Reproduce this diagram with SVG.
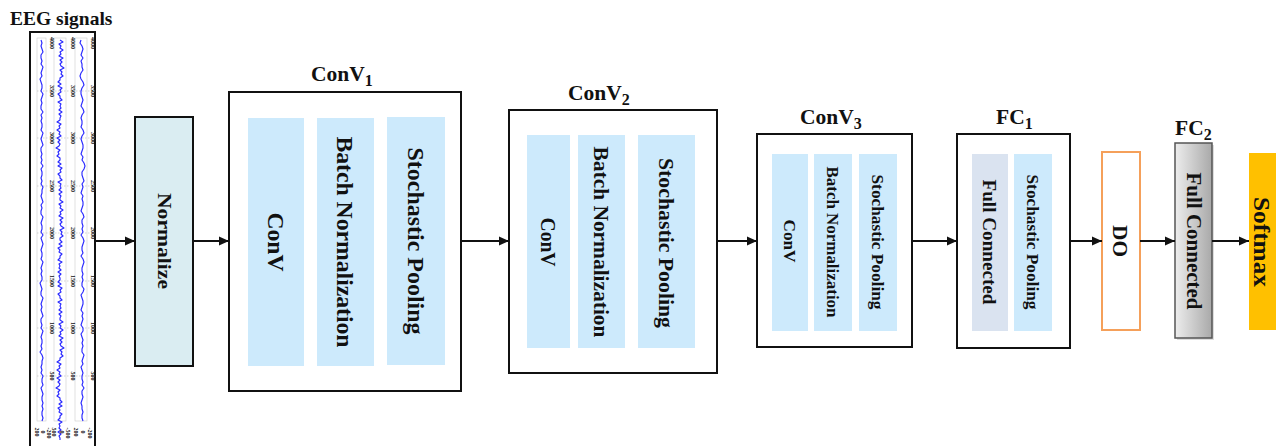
<svg xmlns="http://www.w3.org/2000/svg" width="1276" height="446" viewBox="0 0 1276 446">
<style>
text{font-family:"Liberation Serif","Times New Roman",serif;font-weight:bold;fill:#111}
.box{fill:#fff;stroke:#111;stroke-width:2}
.bar{fill:#cdeafc}
.lbl{text-anchor:middle}
.ttl{font-size:21.5px}
.sub{font-size:16px}
.conn line{stroke:#111;stroke-width:2}
.tick{font-family:"Liberation Serif",serif;font-weight:normal;font-size:6px;fill:#8a8a8a;text-anchor:middle}
.sig{fill:none;stroke:#2a2aff;stroke-width:1.15;stroke-linejoin:round}
.grid{stroke:#bbb;stroke-width:0.6;stroke-dasharray:1.5 1.5}
.pl{fill:#fff;stroke:#ccc;stroke-width:0.6}
</style>
<defs>
<marker id="ah" viewBox="0 0 10 10" refX="10" refY="5" markerWidth="10" markerHeight="10" markerUnits="userSpaceOnUse" orient="auto">
<path d="M0,0.5 L10,5 L0,9.5 Z" fill="#111"/>
</marker>
<linearGradient id="gray" x1="0" y1="0" x2="1" y2="0">
<stop offset="0" stop-color="#ededed"/>
<stop offset="1" stop-color="#a9a9a9"/>
</linearGradient>
</defs>

<g id="eeg">
<text x="10" y="25" style="font-size:19.5px">EEG signals</text>
<rect x="30" y="32" width="65" height="420" fill="#fff" stroke="#111" stroke-width="2"/>
<rect class="pl" x="37" y="38" width="9" height="383"/>
<rect class="pl" x="54" y="38" width="12" height="383"/>
<rect class="pl" x="75" y="38" width="12" height="383"/>
<g class="grid">
<line x1="37" y1="91" x2="95" y2="91"/><line x1="37" y1="138" x2="95" y2="138"/><line x1="37" y1="186" x2="95" y2="186"/><line x1="37" y1="233" x2="95" y2="233"/><line x1="37" y1="281" x2="95" y2="281"/><line x1="37" y1="328" x2="95" y2="328"/><line x1="37" y1="376" x2="95" y2="376"/>
</g>
<path class="sig" d="M41,40 l1,3 -1,3 1,3 1,3 -2,3 0,3 1,3 -1,3 2,3 -1,3 -1,3 1,3 -2,3 1,3 1,3 0,3 -1,3 2,3 -1,3 -1,3 1,3 -1,3 0,3 2,3 -2,3 1,3 -1,3 1,3 0,3 -1,3 2,3 -1,3 -1,3 1,3 1,3 -2,3 0,3 1,3 -1,3 1,3 -1,3 2,3 -2,3 1,3 0,3 -1,3 1,3 -1,3 2,3 -1,3 0,3 -1,3 1,3 1,3 -2,3 1,3 -1,3 0,3 2,3 -1,3 -1,3 1,3 0,3 -1,3 2,3 -2,3 1,3 1,3 -1,3 -1,3 1,3 0,3 -1,3 2,3 -1,3 -1,3 1,3 -1,3 1,3 0,3 -2,3 1,3 1,3 -1,3 0,3 2,3 -1,3 -1,3 1,3 -1,3 1,3 1,3 -2,3 0,3 1,3 -1,3 2,3 -1,3 -1,3 1,3 0,3 -1,3 1,3 -2,3 2,3 1,3 -1,3 0,3 -1,3 1,3 -1,3 2,3 -1,3 0,3 1,3 -2,3 1,3 1,3 -1,3 0,3 1,3 -1,3 1,3 -1,3 0,3 1,3 -1,3"/>
<path class="sig" d="M60,40 l3,2 -4,2 2,2 -1,2 3,2 -3,2 1,2 -2,2 4,2 -3,2 2,2 -2,2 1,2 3,2 -4,2 2,2 -1,2 2,2 -3,2 0,2 -2,2 3,2 -3,2 4,2 -2,2 1,2 -3,2 2,2 0,2 2,2 -4,2 3,2 -1,2 1,2 -2,2 3,2 -3,2 2,2 -1,2 0,2 -3,2 4,2 -2,2 1,2 -3,2 3,2 -1,2 2,2 -4,2 3,2 -2,2 2,2 -1,2 -3,2 4,2 -2,2 1,2 -2,2 3,2 0,2 -2,2 3,2 -3,2 4,2 -2,2 1,2 -3,2 2,2 0,2 2,2 -4,2 3,2 -1,2 1,2 -2,2 3,2 -3,2 2,2 -1,2 0,2 3,2 -4,2 2,2 -1,2 3,2 -3,2 1,2 -2,2 4,2 -3,2 2,2 -2,2 1,2 3,2 -4,2 2,2 -1,2 2,2 -3,2 0,2 2,2 -3,2 3,2 -4,2 2,2 -1,2 3,2 -2,2 0,2 -2,2 4,2 -3,2 1,2 -1,2 2,2 -3,2 3,2 -2,2 1,2 0,2 -2,2 3,2 -3,2 4,2 -2,2 1,2 -3,2 2,2 0,2 2,2 -4,2 3,2 -1,2 1,2 -2,2 3,2 -3,2 2,2 -1,2 0,2 3,2 -4,2 2,2 -1,2 3,2 -3,2 1,2 -2,2 4,2 -3,2 2,2 -2,2 1,2 3,2 -4,2 2,2 -1,2 2,2 -3,2 0,2 -3,2 4,2 -2,2 1,2 -3,2 3,2 -1,2 2,2 -4,2 3,2 -2,2 2,2 -1,2 -3,2 4,2 -2,2 1,2 -2,2 3,2 0,2 2,2 -3,2 3,2 -4,2 2,2 -1,2 3,2 -2,2 0,2 -2,2 4,2 -3,2 1,2 -1,2 2,2 -3,2 3,2 -2,2 1,2 0,2"/>
<path class="sig" d="M81,40 l-1,3 2,3 1,3 -1,3 -1,3 2,3 -2,3 1,3 0,3 1,3 -2,3 -1,3 1,3 2,3 1,3 -2,3 -1,3 0,3 1,3 1,3 -1,3 -1,3 2,3 1,3 -2,3 -1,3 1,3 0,3 -1,3 2,3 1,3 -2,3 -1,3 1,3 1,3 0,3 -1,3 -1,3 2,3 -1,3 2,3 1,3 -1,3 -2,3 0,3 1,3 1,3 -2,3 1,3 -1,3 -1,3 2,3 -1,3 1,3 0,3 -1,3 -1,3 2,3 1,3 -2,3 0,3 1,3 -1,3 1,3 -2,3 2,3 1,3 -1,3 -1,3 0,3 1,3 -2,3 2,3 1,3 -1,3 -1,3 0,3 1,3 -1,3 1,3 -1,3 0,3 2,3 -1,3 -2,3 1,3 1,3 0,3 -1,3 -1,3 2,3 -1,3 1,3 -1,3 -1,3 2,3 0,3 -2,3 1,3 1,3 -1,3 1,3 -1,3 0,3 2,3 -1,3 -1,3 1,3 -2,3 1,3 1,3 -1,3 0,3 1,3 -1,3 2,3 -2,3 0,3 1,3 -1,3 -1,3 1,3 0,3 1,3 -1,3 0,3 1,3"/>
<g class="tick">
<text transform="translate(50,43) rotate(90)">4000</text><text transform="translate(50,91) rotate(90)">3500</text><text transform="translate(50,138) rotate(90)">3000</text><text transform="translate(50,186) rotate(90)">2500</text><text transform="translate(50,233) rotate(90)">2000</text><text transform="translate(50,281) rotate(90)">1500</text><text transform="translate(50,328) rotate(90)">1000</text><text transform="translate(50,376) rotate(90)">500</text>
<text transform="translate(71,43) rotate(90)">4000</text><text transform="translate(71,91) rotate(90)">3500</text><text transform="translate(71,138) rotate(90)">3000</text><text transform="translate(71,186) rotate(90)">2500</text><text transform="translate(71,233) rotate(90)">2000</text><text transform="translate(71,281) rotate(90)">1500</text><text transform="translate(71,328) rotate(90)">1000</text><text transform="translate(71,376) rotate(90)">500</text>
<text transform="translate(91,43) rotate(90)">4000</text><text transform="translate(91,91) rotate(90)">3500</text><text transform="translate(91,138) rotate(90)">3000</text><text transform="translate(91,186) rotate(90)">2500</text><text transform="translate(91,233) rotate(90)">2000</text><text transform="translate(91,281) rotate(90)">1500</text><text transform="translate(91,328) rotate(90)">1000</text><text transform="translate(91,376) rotate(90)">500</text>
<text transform="translate(35,432) rotate(90)">200</text><text transform="translate(41,432) rotate(90)">0</text><text transform="translate(47,433) rotate(90)">-200</text>
<text transform="translate(52,432) rotate(90)">500</text><text transform="translate(60,432) rotate(90)">0</text><text transform="translate(66,433) rotate(90)">-500</text>
<text transform="translate(74,432) rotate(90)">200</text><text transform="translate(81,432) rotate(90)">0</text><text transform="translate(88,433) rotate(90)">-200</text>
</g>
</g>

<g id="normalize">
<rect x="135" y="117" width="58" height="249" fill="#daedf2" stroke="#111" stroke-width="2"/>
<text class="lbl" transform="translate(164,241) rotate(90)" y="6" style="font-size:19px" textLength="96" lengthAdjust="spacingAndGlyphs">Normalize</text>
</g>

<g id="conv1">
<text class="ttl" x="311" y="81">ConV<tspan class="sub" dy="5">1</tspan></text>
<rect class="box" x="229" y="92" width="232" height="299"/>
<rect class="bar" x="248" y="118" width="56" height="248"/>
<rect class="bar" x="317" y="118" width="57" height="248"/>
<rect class="bar" x="387" y="117" width="58" height="248"/>
<text class="lbl" transform="translate(276,242) rotate(90)" y="8" style="font-size:23px" textLength="59" lengthAdjust="spacingAndGlyphs">ConV</text>
<text class="lbl" transform="translate(345,242) rotate(90)" y="8" style="font-size:23px" textLength="211" lengthAdjust="spacingAndGlyphs">Batch Normalization</text>
<text class="lbl" transform="translate(416,241) rotate(90)" y="8" style="font-size:23px" textLength="187" lengthAdjust="spacingAndGlyphs">Stochastic Pooling</text>
</g>

<g id="conv2">
<text class="ttl" x="568" y="100">ConV<tspan class="sub" dy="5">2</tspan></text>
<rect class="box" x="509" y="110" width="208" height="263"/>
<rect class="bar" x="527" y="135" width="43" height="213"/>
<rect class="bar" x="578" y="135" width="47" height="213"/>
<rect class="bar" x="638" y="135" width="57" height="213"/>
<text class="lbl" transform="translate(548,242) rotate(90)" y="7" style="font-size:20px" textLength="49" lengthAdjust="spacingAndGlyphs">ConV</text>
<text class="lbl" transform="translate(601,242) rotate(90)" y="7" style="font-size:20px" textLength="191" lengthAdjust="spacingAndGlyphs">Batch Normalization</text>
<text class="lbl" transform="translate(666,243) rotate(90)" y="7" style="font-size:20px" textLength="170" lengthAdjust="spacingAndGlyphs">Stochastic Pooling</text>
</g>

<g id="conv3">
<text class="ttl" x="800" y="124">ConV<tspan class="sub" dy="5">3</tspan></text>
<rect class="box" x="757" y="134" width="155" height="213"/>
<rect class="bar" x="772" y="154" width="36" height="177"/>
<rect class="bar" x="814" y="154" width="38" height="177"/>
<rect class="bar" x="859" y="154" width="38" height="177"/>
<text class="lbl" transform="translate(790,241) rotate(90)" y="6" style="font-size:17px" textLength="43" lengthAdjust="spacingAndGlyphs">ConV</text>
<text class="lbl" transform="translate(833,242) rotate(90)" y="6" style="font-size:16px" textLength="151" lengthAdjust="spacingAndGlyphs">Batch Normalization</text>
<text class="lbl" transform="translate(878,242) rotate(90)" y="6" style="font-size:16px" textLength="135" lengthAdjust="spacingAndGlyphs">Stochastic Pooling</text>
</g>

<g id="fc1">
<text class="ttl" x="996" y="124">FC<tspan class="sub" dy="5">1</tspan></text>
<rect class="box" x="957" y="134" width="113" height="214"/>
<rect x="972" y="154" width="36" height="177" fill="#dae3f0"/>
<rect class="bar" x="1014" y="154" width="38" height="177"/>
<text class="lbl" transform="translate(990,242) rotate(90)" y="7" style="font-size:19px" textLength="125" lengthAdjust="spacingAndGlyphs">Full Connected</text>
<text class="lbl" transform="translate(1033,242) rotate(90)" y="6" style="font-size:16px" textLength="135" lengthAdjust="spacingAndGlyphs">Stochastic Pooling</text>
</g>

<g id="do">
<rect x="1102" y="152" width="38" height="178" fill="#fff" stroke="#f5a05a" stroke-width="2"/>
<text class="lbl" transform="translate(1121,241) rotate(90)" y="8" style="font-size:22px" textLength="32" lengthAdjust="spacingAndGlyphs">DO</text>
</g>

<g id="fc2">
<text class="ttl" x="1175" y="135">FC<tspan class="sub" dy="5">2</tspan></text>
<rect x="1177" y="145" width="37" height="195" fill="#bbb" opacity="0.5"/>
<rect x="1175" y="143" width="37" height="195" fill="url(#gray)" stroke="#555" stroke-width="1.5"/>
<text class="lbl" transform="translate(1194,241) rotate(90)" y="7" style="font-size:20px" textLength="137" lengthAdjust="spacingAndGlyphs">Full Connected</text>
</g>

<g id="softmax">
<rect x="1249" y="153" width="30" height="177" fill="#ffc000"/>
<text class="lbl" transform="translate(1262,242) rotate(90)" y="8" style="font-size:24px" textLength="90" lengthAdjust="spacingAndGlyphs">Softmax</text>
</g>

<g class="conn">
<line x1="95" y1="241" x2="135" y2="241" marker-end="url(#ah)"/>
<line x1="193" y1="241" x2="229" y2="241" marker-end="url(#ah)"/>
<line x1="461" y1="241" x2="509" y2="241" marker-end="url(#ah)"/>
<line x1="717" y1="241" x2="757" y2="241" marker-end="url(#ah)"/>
<line x1="912" y1="241" x2="957" y2="241" marker-end="url(#ah)"/>
<line x1="1070" y1="241" x2="1102" y2="241" marker-end="url(#ah)"/>
<line x1="1140" y1="241" x2="1175" y2="241" marker-end="url(#ah)"/>
<line x1="1212" y1="241" x2="1249" y2="241" marker-end="url(#ah)"/>
</g>
</svg>
